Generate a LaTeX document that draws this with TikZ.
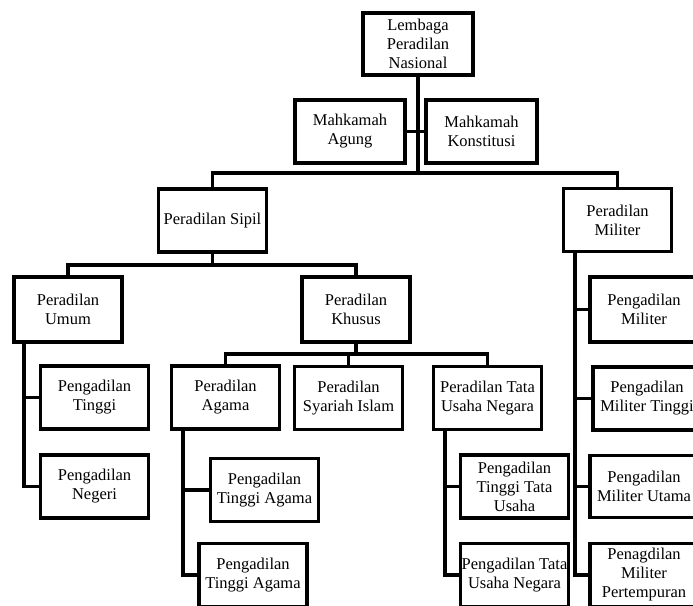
\documentclass[tikz,border=0pt]{standalone}
\usepackage{fontspec}
\setmainfont{Liberation Serif}

\begin{document}
\begin{tikzpicture}[x=1pt, y=-1pt, b/.style={draw, line width=3.5pt, minimum width=108pt, minimum height=63pt, inner sep=0pt, align=center, font=\fontsize{16.5}{19}\selectfont}, s/.style={line width=3.5pt}]
		\useasboundingbox (0,0) rectangle (693,605);
		\clip (0,0) rectangle (693,605);

		\node[b, minimum width=110pt, minimum height=62pt] (LPN) at (418,44) {Lembaga\\Peradilan\\Nasional};
		\node[b, minimum width=110pt] (MA) at (350,131.5) {Mahkamah\\Agung};
		\node[b, minimum width=111pt] (MK) at (481.5,131.5) {Mahkamah\\Konstitusi};

		\node[b] (PS) at (212.5,220.5) {Peradilan Sipil};
		\node[b] (PMil) at (617.5,220) {Peradilan\\Militer};

		\node[b, minimum height=65pt] (PU) at (68,309.5) {Peradilan\\Umum};
		\node[b, minimum height=65pt] (PK) at (356,309.5) {Peradilan\\Khusus};
		\node[b] (PT) at (94.5,397.5) {Pengadilan\\Tinggi};
		\node[b] (PN) at (94.5,486.5) {Pengadilan\\Negeri};

		\node[b] (PA) at (225.5,397.5) {Peradilan\\Agama};
		\node[b] (PSI) at (348.5,398) {Peradilan\\Syariah Islam};
		\node[b] (PTUN) at (487.5,398) {Peradilan Tata\\Usaha Negara};
		\node[b] (PTA1) at (264.5,490) {Pengadilan\\Tinggi Agama};
		\node[b] (PTA2) at (253,575) {Pengadilan\\Tinggi Agama};
		\node[b] (PTTU) at (514.5,486.5) {Pengadilan\\Tinggi Tata\\Usaha};
		\node[b] (PTUN2) at (514.5,575) {Pengadilan Tata\\Usaha Negara};

		\node[b, minimum height=65pt] (PgM) at (644,309.5) {Pengadilan\\Militer};
		\node[b] (PMT) at (647,398.5) {Pengadilan\\Militer Tinggi};
		\node[b, minimum height=62pt] (PMU) at (644,486.5) {Pengadilan\\Militer Utama};
		\node[b] (PMP) at (644,575) {Penagdilan\\Militer\\Pertempuran};

		\coordinate (busA) at (418,173);
		\coordinate (busB) at (212.5,265);
		\coordinate (busC) at (356,354);
		\coordinate (tU) at (24,309.5);
		\coordinate (tA) at (183,397.5);
		\coordinate (tT) at (445,398);
		\coordinate (tM) at (575,220);

		\draw[s] (LPN) -- (busA);
		\draw[s] (MA) -- (MK);
		\draw[s] (PS.north) |- (busA) -| (PMil.north);
		\draw[s] (PS) -- (busB);
		\draw[s] (PU.north) |- (busB) -| (PK.north);
		\draw[s] (PK) -- (busC);
		\draw[s] (PA.north) |- (busC) -| (PTUN.north);
		\draw[s] (PSI.north) -- (PSI.north |- busC);

		\draw[s] (tU |- PU.south) |- (PT.west);
		\draw[s] (tU |- PU.south) |- (PN.west);
		\draw[s] (tA |- PA.south) |- (PTA1.west);
		\draw[s] (tA |- PA.south) |- (PTA2.west);
		\draw[s] (tT |- PTUN.south) |- (PTTU.west);
		\draw[s] (tT |- PTUN.south) |- (PTUN2.west);
		\draw[s] (tM |- PMil.south) |- (PgM.west);
		\draw[s] (tM |- PMil.south) |- (PMT.west);
		\draw[s] (tM |- PMil.south) |- (PMU.west);
		\draw[s] (tM |- PMil.south) |- (PMP.west);
	\end{tikzpicture}
\end{document}
